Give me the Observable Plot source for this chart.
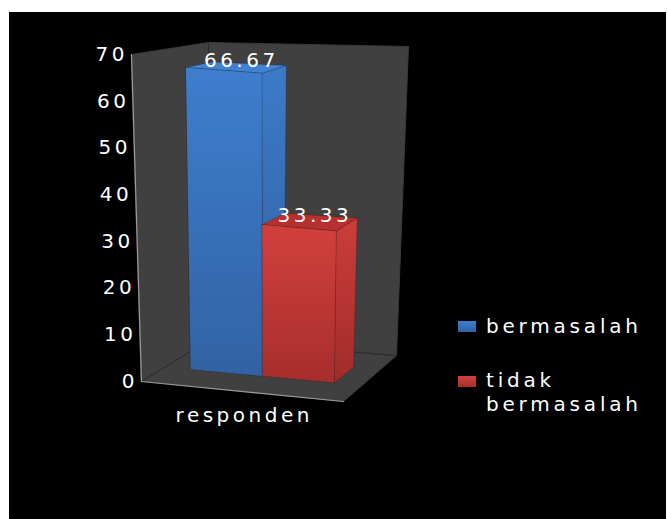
<!DOCTYPE html>
<html>
<head>
<meta charset="utf-8">
<script src="https://cdn.jsdelivr.net/npm/d3@7"></script>
<script src="https://cdn.jsdelivr.net/npm/@observablehq/plot@0.6"></script>
<style>
  html, body { margin: 0; padding: 0; background: #fff; }
  #frame { position: absolute; left: 9px; top: 12px; width: 657px; height: 507px;
           background: #000; overflow: hidden; font-family: "DejaVu Sans", sans-serif; }
  #frame svg { position: absolute; left: 0; top: 0; }
  .item { position: absolute; left: 449px; color: #fff; font-size: 20px; line-height: 24px;
          letter-spacing: 3.8px; }
  .item .swatch { position: absolute; left: 0; width: 18px; height: 11px; }
  .item .label { margin-left: 28px; width: 170px; }
</style>
</head>
<body>
<div id="frame"></div>
<script>
// Survey result: share of respondents, in percent
const categories = ["responden"];
const series = ["bermasalah", "tidak bermasalah"];
const values = [66.67, 33.33];
const yTicks = [0, 10, 20, 30, 40, 50, 60, 70];

// Face colours per series (front gradient, side gradient, top)
const palette = {
  "bermasalah":       {front: ["#3e7ecd", "#3262a5"], side: ["#3c7ac8", "#31609f"], top: "#4282d2"},
  "tidak bermasalah": {front: ["#d2403c", "#a62e2c"], side: ["#cc3d3a", "#a02c2a"], top: "#b5302e"}
};

const W = 657, H = 507;
const fontSize = 20, spacing = 3.5;

// Corners of the 3-D plot box on screen: front plane (depth 0) and back plane (depth 1);
// b = bottom (value 0), t = top (value 70); 0 = left, 1 = right.
const box = {
  front: {b0: [132, 369], b1: [334, 389], t0: [122, 42], t1: [336, 64]},
  back:  {b0: [199, 328], b1: [387, 343], t0: [199, 30], t1: [399, 34]}
};
const lerp = (a, b, k) => [a[0] + (b[0] - a[0]) * k, a[1] + (b[1] - a[1]) * k];
// u: across the category (0..1), t: scaled value (0..1), w: depth (0..1)
function project(u, t, w) {
  const plane = (f) => lerp(lerp(f.b0, f.b1, u), lerp(f.t0, f.t1, u), t);
  return lerp(plane(box.front), plane(box.back), w);
}

const vScale = Plot.scale({y: {domain: [0, 70], range: [0, 1]}});
const uScale = Plot.scale({x: {type: "band", domain: series, range: [0.13, 0.86], padding: 0}});
const bw = uScale.bandwidth;
const depth = [0.35, 0.7];

function polygon(corners, id, fill) {
  return corners.map(([u, t, w]) => {
    const [x, y] = project(u, t, w);
    return {id, x, y, fill};
  });
}

// Walls and floor
const walls = [
  ...polygon([[0, 0, 1], [1, 0, 1], [1, 1, 1], [0, 1, 1]], "back", "#404040"),
  ...polygon([[0, 0, 0], [0, 0, 1], [0, 1, 1], [0, 1, 0]], "left", "#404040"),
  ...polygon([[0, 0, 0], [1, 0, 0], [1, 0, 1], [0, 0, 1]], "floor", "#404040")
];

// Bars: right side, top, front face for each series
const bars = [];
series.forEach((s, i) => {
  const u0 = uScale.apply(s), u1 = u0 + bw, t = vScale.apply(values[i]);
  const [w0, w1] = depth;
  const key = "g" + i;
  bars.push(...polygon([[u1, 0, w0], [u1, 0, w1], [u1, t, w1], [u1, t, w0]], s + "-side", `url(#${key}-side)`));
  bars.push(...polygon([[u0, t, w0], [u1, t, w0], [u1, t, w1], [u0, t, w1]], s + "-top", palette[s].top));
  bars.push(...polygon([[u0, 0, w0], [u1, 0, w0], [u1, t, w0], [u0, t, w0]], s + "-front", `url(#${key}-front)`));
});

// Light front edges of the box
const edges = [
  ...polygon([[0, 0, 0], [1, 0, 0]], "floor-front", null),
  ...polygon([[0, 0, 0], [0, 1, 0]], "left-front", null)
];
const inner = [
  ...polygon([[0, 0, 0], [0, 0, 1], [1, 0, 1]], "floor-inner", null),
  ...polygon([[0, 0, 1], [0, 1, 1]], "back-left", null)
];

const tickPos = (d) => project(0, vScale.apply(d), 0);
const labelPos = (d, i) => project(uScale.apply(series[i]) + bw / 2, vScale.apply(d), (depth[0] + depth[1]) / 2);
const catPos = project(0.5, 0, 0);

const chart = Plot.plot({
  width: W,
  height: H,
  margin: 0,
  x: {type: "identity", axis: null},
  y: {type: "identity", axis: null},
  color: {type: "identity"},
  style: {background: "#000", color: "#fff", fontFamily: "DejaVu Sans, sans-serif", letterSpacing: spacing + "px"},
  marks: [
    Plot.line(walls, {x: "x", y: "y", z: "id", fill: "fill", stroke: "#3a3a3a", strokeWidth: 1, curve: "linear-closed"}),
    Plot.line(inner, {x: "x", y: "y", z: "id", stroke: "#2c2c2c", strokeWidth: 1}),
    Plot.line(edges, {x: "x", y: "y", z: "id", stroke: "#9a9a9a", strokeWidth: 1.2}),
    Plot.line(bars, {x: "x", y: "y", z: "id", fill: "fill", stroke: "rgba(0,0,0,0.22)", strokeWidth: 0.8, curve: "linear-closed"}),
    Plot.text(yTicks, {
      x: (d) => tickPos(d)[0], y: (d) => tickPos(d)[1], text: (d) => String(d),
      textAnchor: "end", dx: -7 + spacing, fill: "#fff", fontSize
    }),
    Plot.text(categories, {
      x: () => catPos[0], y: () => catPos[1], text: (d) => d,
      dx: spacing / 2, dy: 24, fill: "#fff", fontSize
    }),
    Plot.text(values, {
      x: (d, i) => labelPos(d, i)[0], y: (d, i) => labelPos(d, i)[1], text: (d) => d.toFixed(2),
      dx: 3 + spacing / 2, dy: -6, fill: "#fff", fontSize
    })
  ]
});

// Vertical shading gradients for the bar faces
const defs = d3.select(chart).insert("defs", ":first-child");
series.forEach((s, i) => {
  for (const part of ["front", "side"]) {
    const g = defs.append("linearGradient").attr("id", `g${i}-${part}`)
      .attr("x1", 0).attr("y1", 0).attr("x2", 0).attr("y2", 1);
    g.append("stop").attr("offset", "0%").attr("stop-color", palette[s][part][0]);
    g.append("stop").attr("offset", "100%").attr("stop-color", palette[s][part][1]);
  }
});

const frame = document.getElementById("frame");
frame.appendChild(chart);

// Legend
const legendTops = [302, 356];
const swatchOffsets = [7, 8];
const legendNames = [["bermasalah"], ["tidak", "bermasalah"]];
series.forEach((s, i) => {
  const item = document.createElement("div");
  item.className = "item";
  item.style.top = legendTops[i] + "px";
  const sw = document.createElement("div");
  sw.className = "swatch";
  sw.style.top = swatchOffsets[i] + "px";
  sw.style.background = `linear-gradient(${palette[s].front[0]}, ${palette[s].front[1]})`;
  const lab = document.createElement("div");
  lab.className = "label";
  lab.innerHTML = legendNames[i].join("<br>");
  item.appendChild(sw);
  item.appendChild(lab);
  frame.appendChild(item);
});
</script>
</body>
</html>
